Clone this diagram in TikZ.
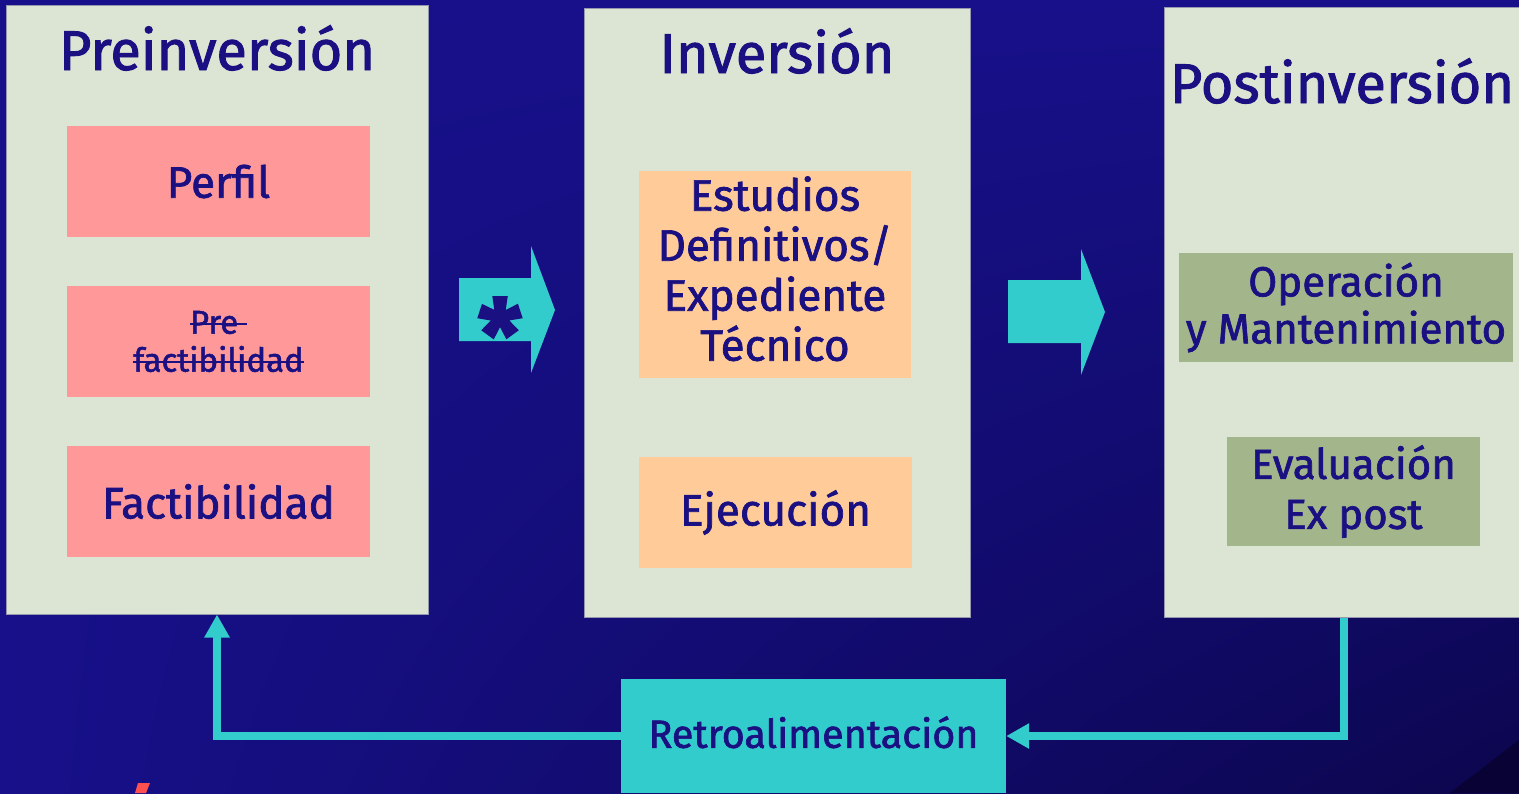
\documentclass[tikz,border=0pt]{standalone}
\usepackage{fontspec}
\setmainfont{Fira Sans}[FakeBold=1.6]
\usetikzlibrary{arrows.meta,shadings}

\definecolor{bgblue}{RGB}{23,16,138}
\definecolor{bgdark}{RGB}{12,6,78}
\definecolor{bgcorner}{RGB}{8,3,52}
\definecolor{ink}{RGB}{26,16,130}
\definecolor{panelgray}{RGB}{220,228,212}
\definecolor{panelline}{RGB}{150,150,175}
\definecolor{pinkbox}{RGB}{255,153,153}
\definecolor{peachbox}{RGB}{255,204,153}
\definecolor{greenbox}{RGB}{162,181,139}
\definecolor{cyanarrow}{RGB}{51,204,204}
\definecolor{accentred}{RGB}{255,80,80}

% struck-through text
\newsavebox\strkbox
\newcommand\strk[1]{\sbox\strkbox{#1}\rlap{\usebox\strkbox}\rule[0.26em]{\wd\strkbox}{0.07em}}

\tikzset{
  panel/.style={fill=panelgray, draw=panelline, line width=1pt, inner sep=0pt},
  stage/.style={text=ink, anchor=base, font=\fontsize{56}{60}\selectfont},
  phase/.style={text=ink, inner sep=0pt, align=center, font=\fontsize{44}{50}\selectfont},
  feed/.style={draw=cyanarrow, line width=8pt, -{Triangle[length=23pt,width=24pt]}}
}

\begin{document}
\begin{tikzpicture}[x=1pt,y=-1pt]
    \useasboundingbox (0,0) rectangle (1519,793);
    % Background
    \shade[upper left=bgblue, upper right=bgblue, lower left=bgblue, lower right=bgdark] (0,0) rectangle (1519,793);
    \fill[bgcorner] (1450,793) -- (1519,740) -- (1519,793) -- cycle;
    % Panels
    \node[panel, minimum width=422pt, minimum height=609pt] (pre) at (217,309.5) {};
    \node[panel, minimum width=386pt, minimum height=609pt] (inv) at (777,312.5) {};
    \node[panel, minimum width=360pt, minimum height=610pt] (post) at (1344,312) {};
    % Stage titles
    \node[stage] (pretitle) at (217,70) {Preinversión};
    \node[stage] (invtitle) at (777,73) {Inversión};
    \node[stage] (posttitle) at (1342,103) {Postinversión};
    % Preinversion studies
    \node[phase, fill=pinkbox, minimum width=303pt, minimum height=111pt] (perfil) at (218.5,181.5) {Perfil};
    \node[phase, fill=pinkbox, minimum width=303pt, minimum height=111pt, font=\fontsize{33}{38}\selectfont] (prefact) at (218.5,341.5) {\strk{Pre }\\\strk{factibilidad}};
    \node[phase, fill=pinkbox, minimum width=303pt, minimum height=111pt] (fact) at (218.5,501.5) {Factibilidad};
    % Inversion
    \node[phase, fill=peachbox, minimum width=272pt, minimum height=207pt, text depth=12pt] (estudios) at (775,274.5) {Estudios\\Definitivos/\\Expediente\\Técnico};
    \node[phase, fill=peachbox, minimum width=273pt, minimum height=111pt] (ejec) at (775.5,512.5) {Ejecución};
    % Postinversion
    \node[phase, fill=greenbox, minimum width=334pt, minimum height=109pt, font=\fontsize{42}{47}\selectfont] (opera) at (1346,307.5) {Operación\\y Mantenimiento};
    \node[phase, fill=greenbox, minimum width=253pt, minimum height=109pt, font=\fontsize{42}{50}\selectfont] (evalua) at (1353.5,491.5) {Evaluación\\Ex post};
    % Block arrows between stages
    \fill[cyanarrow] (459,278) -- (531,278) -- (531,246) -- (555,310) -- (531,373) -- (531,341) -- (459,341) -- cycle;
    \fill[cyanarrow] (1008,280) -- (1081,280) -- (1081,249) -- (1105,312) -- (1081,375) -- (1081,343) -- (1008,343) -- cycle;
    \node[text=ink, font=\bfseries\fontsize{100}{100}\selectfont] (ast) at (500,334) {*};
    % Feedback loop
    \node[phase, fill=cyanarrow, minimum width=385pt, minimum height=114pt, text depth=8pt, font=\fontsize{39.5}{40}\selectfont] (retro) at (813.5,736) {Retroalimentación};
    \draw[feed] (post.south) |- (retro.east);
    \draw[feed] (retro.west) -| (pre.south);
    % Red accent at the lower edge
    \fill[accentred] (138,783) -- (150,783) -- (146,793) -- (135,793) -- cycle;
\end{tikzpicture}
\end{document}
